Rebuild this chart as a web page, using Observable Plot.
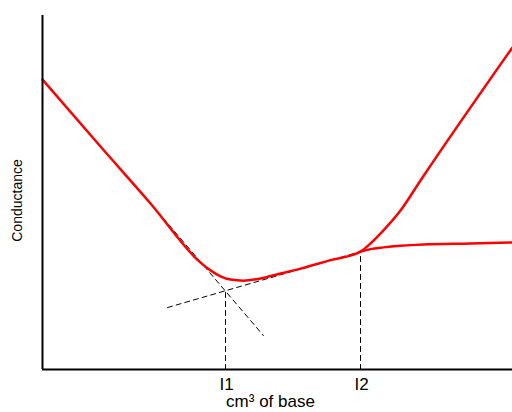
<!DOCTYPE html>
<html>
<head>
<meta charset="utf-8">
<script src="https://cdn.jsdelivr.net/npm/d3@7"></script>
<script src="https://cdn.jsdelivr.net/npm/@observablehq/plot@0.6"></script>
<style>
  html, body { margin: 0; padding: 0; background: #fff; }
  svg { display: block; }
</style>
</head>
<body>
<div id="chart"></div>
<script>
// Volume of base (arbitrary units) and conductance (arbitrary units)
const mainVol  = [0, 1.234, 2.298, 3.362, 3.574, 3.787, 4.0, 4.277, 4.638, 5.064, 5.489, 6.128, 6.766, 6.979, 7.255, 7.617, 8.043, 10];
const mainCond = [8.19, 6.30, 4.69, 3.02, 2.80, 2.63, 2.54, 2.51, 2.57, 2.71, 2.85, 3.09, 3.33, 3.56, 3.93, 4.49, 5.34, 9.10];

const weakVol  = [6.766, 6.979, 7.255, 8.106, 9.106, 10];
const weakCond = [3.33, 3.40, 3.45, 3.53, 3.56, 3.59];

// Extrapolated straight segments (dashed)
const ext1Vol  = [2.19, 4.70];
const ext1Cond = [4.86, 0.96];
const ext2Vol  = [2.66, 6.766];
const ext2Cond = [1.75, 3.33];

// Equivalence points
const eqNames = ["I1", "I2"];
const eqVol   = [3.894, 6.766];
const eqCond  = [2.23, 3.33];

const toRows = (xs, ys) => xs.map((x, i) => ({x, y: ys[i]}));
const mainData = toRows(mainVol, mainCond);
const weakData = toRows(weakVol, weakCond);
const ext1 = toRows(ext1Vol, ext1Cond);
const ext2 = toRows(ext2Vol, ext2Cond);
const eqData = eqNames.map((n, i) => ({name: n, x: eqVol[i], y: eqCond[i]}));
const dropLines = eqData.flatMap(d => [{x: d.x, y: 0, k: d.name}, {x: d.x, y: d.y, k: d.name}]);

const font = "'Liberation Sans', Arial, sans-serif";

const chart = Plot.plot({
  width: 512,
  height: 412,
  marginLeft: 42,
  marginRight: 0,
  marginTop: 15,
  marginBottom: 43,
  style: {fontFamily: font, fontSize: "16px", background: "#fff", overflow: "visible"},
  x: {domain: [0, 10], axis: null},
  y: {domain: [0, 10], axis: null},
  marks: [
    Plot.line(ext1, {x: "x", y: "y", stroke: "#000", strokeWidth: 1, strokeDasharray: "5,4"}),
    Plot.line(ext2, {x: "x", y: "y", stroke: "#000", strokeWidth: 1, strokeDasharray: "5,4"}),
    Plot.line(dropLines, {x: "x", y: "y", z: "k", stroke: "#000", strokeWidth: 1, strokeDasharray: "5,4"}),
    Plot.line(weakData, {x: "x", y: "y", stroke: "#ff0000", strokeWidth: 2.5, curve: "monotone-x"}),
    Plot.line(mainData, {x: "x", y: "y", stroke: "#ff0000", strokeWidth: 2.5, curve: "monotone-x"}),
    Plot.ruleX([0], {stroke: "#000", strokeWidth: 2}),
    Plot.ruleY([0], {stroke: "#000", strokeWidth: 2}),
    Plot.text(eqData, {x: "x", frameAnchor: "bottom", text: "name", dx: 1, dy: 20, lineAnchor: "bottom", fontSize: 17, fill: "#000"}),
    Plot.text(["cm³ of base"], {frameAnchor: "bottom", textAnchor: "middle", dx: -7, dy: 37, lineAnchor: "bottom", fontSize: 17, fill: "#000"}),
    Plot.text(["Conductance"], {frameAnchor: "left", textAnchor: "middle", dx: -25, dy: 8, rotate: -90, fontSize: 14, fill: "#000"})
  ]
});
document.getElementById("chart").appendChild(chart);
</script>
</body>
</html>
